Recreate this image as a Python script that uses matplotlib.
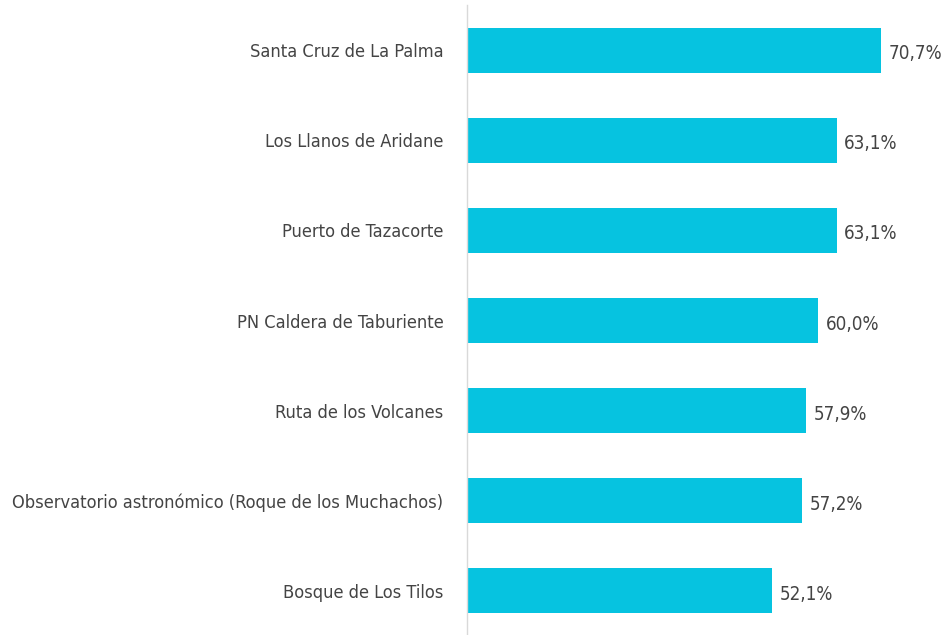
import matplotlib.pyplot as plt

names = ['Santa Cruz de La Palma', 'Los Llanos de Aridane', 'Puerto de Tazacorte',
         'PN Caldera de Taburiente', 'Ruta de los Volcanes',
         'Observatorio astronómico (Roque de los Muchachos)', 'Bosque de Los Tilos']
values = [70.7, 63.1, 63.1, 60.0, 57.9, 57.2, 52.1]
labels = ['70,7%', '63,1%', '63,1%', '60,0%', '57,9%', '57,2%', '52,1%']

plt.rcParams['font.family'] = ['DejaVu Sans']
plt.rcParams['font.stretch'] = 'condensed'

fig = plt.figure(figsize=(9.44, 6.35), dpi=100)
ax = fig.add_axes([467 / 944, -1 / 635, 468.5 / 944, 631 / 635])

y = list(range(len(names)))
ax.barh(y, values, height=0.5, color='#06C3E0')
for yi, v, lab in zip(y, values, labels):
    ax.text(v + 1.3, yi + 0.04, lab, va='center', ha='left', fontsize=13.5,
            color='#444444')

ax.set_xlim(0, 80)
ax.set_ylim(6.5, -0.5)
ax.set_yticks(y)
ax.set_yticklabels(names, fontsize=13.1, color='#444444')
ax.tick_params(axis='y', length=0, pad=17)
ax.set_xticks([])
for s in ['top', 'right', 'bottom']:
    ax.spines[s].set_visible(False)
ax.spines['left'].set_color('#d9d9d9')
ax.spines['left'].set_linewidth(1)

fig.savefig('out.png', dpi=100)
